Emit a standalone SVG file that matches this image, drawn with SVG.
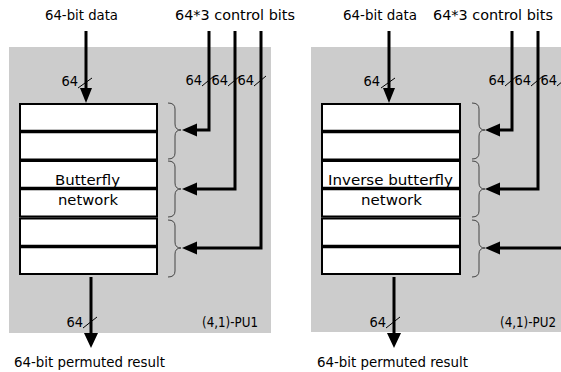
<svg xmlns="http://www.w3.org/2000/svg" width="561" height="372" viewBox="0 0 561 372">
<style>
text{font-family:"DejaVu Sans Condensed","DejaVu Sans","Liberation Sans",sans-serif;font-stretch:condensed;font-size:14.5px;fill:#000}
.panel{fill:#cccccc}
.row{fill:#fff;stroke:#000;stroke-width:2}
.mid{stroke:#000;stroke-width:3.5}
.wire{fill:none;stroke:#000;stroke-width:3}
.head{fill:#000}
.brace{fill:none;stroke:#444;stroke-width:1}
.slash{stroke:#000;stroke-width:1}
.e{text-anchor:end}
.m{text-anchor:middle}
</style>
<g id="pu1">
<rect class="panel" x="9" y="47" width="262" height="286"/>
<g id="stage1-1"><rect class="row" x="20" y="104" width="137" height="55.5"/><line class="mid" x1="20" y1="131.5" x2="157" y2="131.5"/></g>
<g id="stage1-2"><rect class="row" x="20" y="161" width="137" height="55.5"/><line class="mid" x1="20" y1="188.5" x2="157" y2="188.5"/></g>
<g id="stage1-3"><rect class="row" x="20" y="218.5" width="137" height="55.5"/><line class="mid" x1="20" y1="246.5" x2="157" y2="246.5"/></g>
<text x="55" y="185" textLength="65" lengthAdjust="spacingAndGlyphs">Butterfly</text>
<text x="58" y="205" textLength="60" lengthAdjust="spacingAndGlyphs">network</text>
<text x="202" y="327" textLength="56" lengthAdjust="spacingAndGlyphs">(4,1)-PU1</text>
</g>
<g id="pu2">
<rect class="panel" x="311" y="47" width="250" height="285"/>
<g id="stage2-1"><rect class="row" x="322" y="104" width="138" height="55.5"/><line class="mid" x1="322" y1="131.5" x2="460" y2="131.5"/></g>
<g id="stage2-2"><rect class="row" x="322" y="161" width="138" height="55.5"/><line class="mid" x1="322" y1="188.5" x2="460" y2="188.5"/></g>
<g id="stage2-3"><rect class="row" x="322" y="218.5" width="138" height="55.5"/><line class="mid" x1="322" y1="246.5" x2="460" y2="246.5"/></g>
<text x="328" y="185" textLength="125" lengthAdjust="spacingAndGlyphs">Inverse butterfly</text>
<text x="361" y="205" textLength="61" lengthAdjust="spacingAndGlyphs">network</text>
<text x="500" y="327" textLength="56" lengthAdjust="spacingAndGlyphs">(4,1)-PU2</text>
</g>
<g id="labels">
<text x="45" y="20" textLength="73" lengthAdjust="spacingAndGlyphs">64-bit data</text>
<text x="175" y="20" textLength="120" lengthAdjust="spacingAndGlyphs">64*3 control bits</text>
<text x="343" y="20" textLength="74" lengthAdjust="spacingAndGlyphs">64-bit data</text>
<text x="433" y="20" textLength="120" lengthAdjust="spacingAndGlyphs">64*3 control bits</text>
<text x="14" y="367" textLength="151" lengthAdjust="spacingAndGlyphs">64-bit permuted result</text>
<text x="317" y="367" textLength="151" lengthAdjust="spacingAndGlyphs">64-bit permuted result</text>
</g>
<g id="connectors">
<path class="brace" d="M168,103 Q175,103 175,109 L175,124 Q175,130 181,130 Q175,130 175,136 L175,153 Q175,159 168,159"/>
<path class="brace" d="M168,161 Q175,161 175,167 L175,183 Q175,189 181,189 Q175,189 175,195 L175,211 Q175,217 168,217"/>
<path class="brace" d="M168,220 Q175,220 175,226 L175,242 Q175,248 181,248 Q175,248 175,254 L175,271 Q175,277 168,277"/>
<path class="brace" d="M472,103 Q479,103 479,109 L479,124 Q479,130 485,130 Q479,130 479,136 L479,153 Q479,159 472,159"/>
<path class="brace" d="M472,161 Q479,161 479,167 L479,183 Q479,189 485,189 Q479,189 479,195 L479,211 Q479,217 472,217"/>
<path class="brace" d="M472,220 Q479,220 479,226 L479,242 Q479,248 485,248 Q479,248 479,254 L479,271 Q479,277 472,277"/>

<line class="wire" x1="86" y1="31" x2="86" y2="89"/><polygon class="head" points="80,88 92,88 86,103"/>
<line class="wire" x1="91" y1="277" x2="91" y2="334"/><polygon class="head" points="84,333 98,333 91,348"/>
<line class="wire" x1="389" y1="31" x2="389" y2="89"/><polygon class="head" points="383,88 395,88 389,103"/>
<line class="wire" x1="394" y1="277" x2="394" y2="334"/><polygon class="head" points="387,333 401,333 394,348"/>

<polyline class="wire" points="209,31 209,130 196,130"/><polygon class="head" points="197,123.5 197,136.5 182,130"/>
<polyline class="wire" points="235,31 235,189 196,189"/><polygon class="head" points="197,182.5 197,195.5 182,189"/>
<polyline class="wire" points="261,31 261,248 196,248"/><polygon class="head" points="197,241.5 197,254.5 182,248"/>
<polyline class="wire" points="512,31 512,130 499,130"/><polygon class="head" points="500,123.5 500,136.5 485,130"/>
<polyline class="wire" points="538,31 538,189 499,189"/><polygon class="head" points="500,182.5 500,195.5 485,189"/>
<polyline class="wire" points="564,31 564,248 499,248"/><polygon class="head" points="500,241.5 500,254.5 485,248"/>

<line class="slash" x1="78" y1="88" x2="92" y2="78"/>
<line class="slash" x1="83" y1="328" x2="97" y2="317"/>
<line class="slash" x1="381" y1="88" x2="395" y2="78"/>
<line class="slash" x1="386" y1="328" x2="400" y2="317"/>
<line class="slash" x1="202" y1="86" x2="214" y2="76"/>
<line class="slash" x1="228" y1="86" x2="240" y2="76"/>
<line class="slash" x1="254" y1="86" x2="266" y2="76"/>
<line class="slash" x1="505" y1="86" x2="517" y2="76"/>
<line class="slash" x1="531" y1="86" x2="543" y2="76"/>
<line class="slash" x1="557" y1="86" x2="569" y2="76"/>
</g>
<g id="widths">
<text class="e" x="78" y="86">64</text>
<text class="e" x="83" y="327">64</text>
<text class="e" x="380" y="86">64</text>
<text class="e" x="386" y="327">64</text>
<text class="e" x="202" y="85">64</text>
<text class="e" x="228" y="85">64</text>
<text class="e" x="254" y="85">64</text>
<text class="e" x="505" y="85">64</text>
<text class="e" x="531" y="85">64</text>
<text class="e" x="557" y="85">64</text>
</g>
</svg>
